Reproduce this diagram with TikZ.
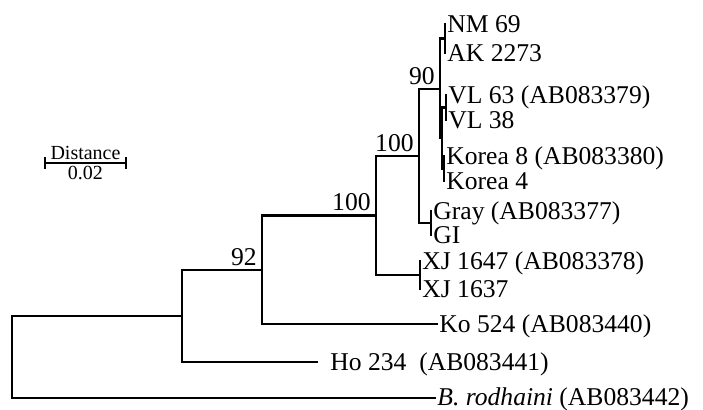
\documentclass[tikz,border=0pt]{standalone}
\usepackage{fontspec}
\setmainfont{Liberation Serif}
\usetikzlibrary{positioning,calc}
\begin{document}
\begin{tikzpicture}[
      x=0.5pt, y=-0.5pt,
      branch/.style={line width=1.1pt,line cap=rect},
      leaf/.style={anchor=west,inner xsep=1pt,inner ysep=0pt,text height=10pt,text depth=1.4pt,font=\fontsize{12.8}{15}\selectfont},
      boot/.style={anchor=south east,inner xsep=2.5pt,inner ysep=2pt,font=\fontsize{12.8}{15}\selectfont},
      scalebar/.style={line width=0.75pt},
      scalelbl/.style={inner sep=1pt,font=\fontsize{10}{12}\selectfont}
    ]
    \useasboundingbox (0,0) rectangle (703,410);
    % internal nodes
    \coordinate (root) at (12,357);
    \coordinate (nA) at (182,316);
    \coordinate (n92) at (262,270);
    \coordinate (n100a) at (376,215.5);
    \coordinate (nXJ) at (420,275);
    \coordinate (n100b) at (419,156);
    \coordinate (nGR) at (431,223);
    \coordinate (n90) at (440,89);
    \coordinate (nNA) at (445,38.5);
    \coordinate (nVK) at (442,138);
    \coordinate (nVL) at (446,107.5);
    \coordinate (nKO) at (444,168.5);
    % leaves
    \node[leaf] (nm) at (445,24) {NM 69};
    \node[leaf] (ak) at (445,53) {AK 2273};
    \node[leaf] (vl63) at (446,95) {VL 63 (AB083379)};
    \node[leaf] (vl38) at (446,120) {VL 38};
    \node[leaf] (ko8) at (444,156) {Korea 8 (AB083380)};
    \node[leaf] (ko4) at (444,181) {Korea 4};
    \node[leaf] (gray) at (431,211) {Gray (AB083377)};
    \node[leaf] (gi) at (431,235) {GI};
    \node[leaf] (xj47) at (420,261) {XJ 1647 (AB083378)};
    \node[leaf] (xj37) at (420,289) {XJ 1637};
    \node[leaf] (ko524) at (437,324) {Ko 524 (AB083440)};
    \node[leaf,inner xsep=6.5pt] (ho) at (317,362) {Ho 234\ \ (AB083441)};
    \node[leaf,text height=8.5pt] (brod) at (435,398) {\textit{B. rodhaini} (AB083442)};
    % branches
    \draw[branch] (root) |- (nA);
    \draw[branch] (root) |- (brod);
    \draw[branch] (nA) |- (n92);
    \draw[branch] (nA) |- (ho);
    \draw[branch] (n92) |- (n100a);
    \draw[branch] (n92) |- (ko524);
    \draw[branch] (n100a) |- (n100b);
    \draw[branch] (n100a) |- (nXJ);
    \draw[branch] (nXJ) |- (xj47);
    \draw[branch] (nXJ) |- (xj37);
    \draw[branch] (n100b) |- (n90);
    \draw[branch] (n100b) |- (nGR);
    \draw[branch] (nGR) |- (gray);
    \draw[branch] (nGR) |- (gi);
    \draw[branch] (n90) |- (nNA);
    \draw[branch] (n90) |- (nVK);
    \draw[branch] (nNA) |- (nm);
    \draw[branch] (nNA) |- (ak);
    \draw[branch] (nVK) |- (nVL);
    \draw[branch] (nVK) |- (nKO);
    \draw[branch] (nVL) |- (vl63);
    \draw[branch] (nVL) |- (vl38);
    \draw[branch] (nKO) |- (ko8);
    \draw[branch] (nKO) |- (ko4);
    % bootstrap values
    \node[boot] (b92) at (n92) {92};
    \node[boot] (b100a) at (n100a) {100};
    \node[boot] (b100b) at (n100b) {100};
    \node[boot] (b90) at (n90) {90};
    % scale bar
    \coordinate (sbL) at (45,163);
    \coordinate (sbR) at (126,163);
    \draw[scalebar] (sbL) -- (sbR);
    \draw[scalebar] ([yshift=-3pt]sbL) -- ([yshift=3pt]sbL);
    \draw[scalebar] ([yshift=-3pt]sbR) -- ([yshift=3pt]sbR);
    \node[scalelbl,above=0.5pt of $(sbL)!0.5!(sbR)$] (dist) {Distance};
    \node[scalelbl,below=0.5pt of $(sbL)!0.5!(sbR)$] (dval) {0.02};
  \end{tikzpicture}
\end{document}
